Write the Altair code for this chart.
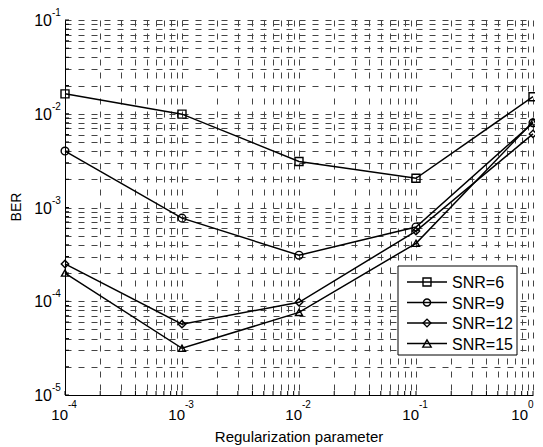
import altair as alt
import pandas as pd

# ---- data ----
reg_param = [1e-4, 1e-3, 1e-2, 1e-1, 1e0]
series_names = ["SNR=6", "SNR=9", "SNR=12", "SNR=15"]
ber_snr6 = [0.0163, 0.0099, 0.0031, 0.00205, 0.0152]
ber_snr9 = [0.0040, 0.00077, 0.00031, 0.00062, 0.0080]
ber_snr12 = [0.00025, 0.000057, 0.0000975, 0.00056, 0.0061]
ber_snr15 = [0.00020, 0.0000315, 0.000076, 0.000415, 0.0082]
marker_shapes = ["square", "circle", "diamond", "triangle-up"]
marker_sizes = [64, 50, 60, 70]

x_major = [1e-4, 1e-3, 1e-2, 1e-1, 1e0]
x_major_exp = ["-4", "-3", "-2", "-1", "0"]
y_major = [1e-5, 1e-4, 1e-3, 1e-2, 1e-1]
y_major_exp = ["-5", "-4", "-3", "-2", "-1"]
minor_mult = [1, 2, 3, 4, 5, 6, 7, 8, 9]

x_grid = [m * d for d in x_major[:-1] for m in minor_mult] + [x_major[-1]]
y_grid = [m * d for d in y_major[:-1] for m in minor_mult] + [y_major[-1]]

FONT = "Liberation Sans"
W, H = 468, 375

rows = []
for name, vals in zip(series_names, [ber_snr6, ber_snr9, ber_snr12, ber_snr15]):
    for xv, yv in zip(reg_param, vals):
        rows.append({"x": xv, "y": yv, "series": name})
df = pd.DataFrame(rows)

xs = alt.Scale(type="log", domain=[1e-4, 1], nice=False)
ys = alt.Scale(type="log", domain=[1e-5, 1e-1], nice=False)
x_axis = alt.Axis(values=x_grid, labels=False, ticks=False, title=None, grid=True,
                  gridDash=[6, 7], gridColor="#444444", gridWidth=1, gridOpacity=1,
                  domain=True, domainColor="black", domainWidth=1)
y_axis = alt.Axis(values=y_grid, labels=False, ticks=False, title=None, grid=True,
                  gridDash=[6, 7], gridColor="#444444", gridWidth=1, gridOpacity=1,
                  domain=True, domainColor="black", domainWidth=1)
X = alt.X("x:Q", scale=xs, axis=x_axis)
Y = alt.Y("y:Q", scale=ys, axis=y_axis)

lines = alt.Chart(df).mark_line(color="black", strokeWidth=1.5).encode(
    x=X, y=Y, detail="series:N")
points = alt.Chart(df).mark_point(filled=False, color="black", strokeWidth=1.4, opacity=1).encode(
    x=X, y=Y,
    shape=alt.Shape("series:N", scale=alt.Scale(domain=series_names, range=marker_shapes), legend=None),
    size=alt.Size("series:N", scale=alt.Scale(domain=series_names, range=marker_sizes), legend=None),
)

# inward ticks
xt = alt.Chart(pd.DataFrame({"x": x_grid})).mark_rule(color="black", strokeWidth=1).encode(
    x=X, y=alt.value(H), y2=alt.value(H - 4))
yt = alt.Chart(pd.DataFrame({"y": y_grid})).mark_rule(color="black", strokeWidth=1).encode(
    y=Y, x=alt.value(0), x2=alt.value(4))

# tick labels 10^k (the last x label is nudged left so it stays inside the page)
xl_df = pd.DataFrame({"x": x_major[:-1], "exp": x_major_exp[:-1], "base": ["10"] * (len(x_major) - 1)})
xl_last = pd.DataFrame({"x": x_major[-1:], "exp": x_major_exp[-1:], "base": ["10"]})
xl_base = alt.Chart(xl_df).mark_text(font=FONT, fontSize=15, align="right", baseline="alphabetic",
                                     dx=3, color="black").encode(x=X, y=alt.value(H + 25), text="base:N")
xl_exp = alt.Chart(xl_df).mark_text(font=FONT, fontSize=10, align="left", baseline="alphabetic",
                                    dx=3, color="black").encode(x=X, y=alt.value(H + 13), text="exp:N")
xl_base2 = alt.Chart(xl_last).mark_text(font=FONT, fontSize=15, align="right", baseline="alphabetic",
                                        dx=-5, color="black").encode(x=X, y=alt.value(H + 25), text="base:N")
xl_exp2 = alt.Chart(xl_last).mark_text(font=FONT, fontSize=10, align="left", baseline="alphabetic",
                                       dx=-5, color="black").encode(x=X, y=alt.value(H + 13), text="exp:N")
yl_df = pd.DataFrame({"y": y_major, "exp": y_major_exp, "base": ["10"] * len(y_major)})
yl_base = alt.Chart(yl_df).mark_text(font=FONT, fontSize=16, align="right", baseline="alphabetic",
                                     dy=6, color="black").encode(y=Y, x=alt.value(-13), text="base:N")
yl_exp = alt.Chart(yl_df).mark_text(font=FONT, fontSize=10, align="left", baseline="alphabetic",
                                    dy=-4, color="black").encode(y=Y, x=alt.value(-13), text="exp:N")

one = pd.DataFrame({"t": ["Regularization parameter"]})
xtitle = alt.Chart(one).mark_text(font=FONT, fontSize=15, align="center", baseline="alphabetic",
                                  color="black").encode(x=alt.value(W / 2), y=alt.value(H + 47), text="t:N")
ytitle = alt.Chart(pd.DataFrame({"t": ["BER"]})).mark_text(font=FONT, fontSize=14, align="center",
                                                           baseline="middle", angle=270, color="black").encode(
    x=alt.value(-48), y=alt.value(187), text="t:N")

# legend
leg_box = alt.Chart(pd.DataFrame({"a": [0]})).mark_rect(fill="white", stroke="black", strokeWidth=1).encode(
    x=alt.value(333), x2=alt.value(452), y=alt.value(246), y2=alt.value(335))
leg_layers = [leg_box]
for i, (name, shp, sz) in enumerate(zip(series_names, marker_shapes, marker_sizes)):
    ry = 262 + 20.5 * i
    d = pd.DataFrame({"t": [name]})
    leg_layers.append(alt.Chart(d).mark_rule(color="black", strokeWidth=1.5).encode(
        x=alt.value(342), x2=alt.value(382), y=alt.value(ry)))
    leg_layers.append(alt.Chart(d).mark_point(filled=False, color="black", strokeWidth=1.4, opacity=1,
                                              shape=shp, size=sz).encode(
        x=alt.value(362), y=alt.value(ry)))
    leg_layers.append(alt.Chart(d).mark_text(font=FONT, fontSize=16, align="left", baseline="middle",
                                             color="black").encode(
        x=alt.value(387), y=alt.value(ry + 1), text="t:N"))

chart = alt.layer(
    lines, points, xt, yt, xl_base, xl_exp, xl_base2, xl_exp2, yl_base, yl_exp, xtitle, ytitle, *leg_layers
).properties(
    width=W, height=H,
    padding={"left": 57, "top": 12, "right": 2, "bottom": 52},
    autosize=alt.AutoSizeParams(type="none"),
    background="white",
).configure_view(stroke=None)

chart.save("out.html", embed_options={"renderer": "svg", "actions": False})
